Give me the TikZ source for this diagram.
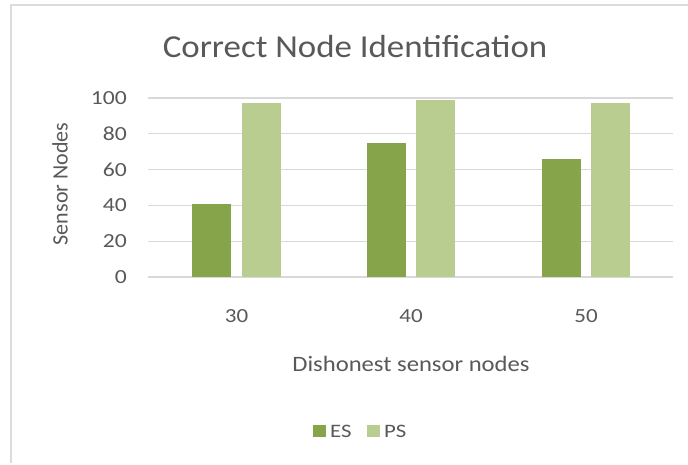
\documentclass[tikz,border=0pt]{standalone}
\usepackage{fontspec}
\setmainfont{Carlito}
\definecolor{esc}{RGB}{134,164,74}
\definecolor{psc}{RGB}{185,205,145}
\definecolor{gridc}{RGB}{217,217,217}
\definecolor{framec}{RGB}{220,220,220}
\definecolor{txt}{RGB}{89,89,89}
\newcommand\hstretch[2]{\scalebox{#1}[1]{#2}}
\begin{document}
\begin{tikzpicture}[x=1pt,y=-1pt,
  lbl/.style={text=txt,inner sep=0pt},
  ticklbl/.style={lbl,font=\fontsize{20}{24}\selectfont},
  axtitle/.style={lbl,font=\fontsize{22}{26}\selectfont},
  legendlbl/.style={lbl,anchor=west,font=\fontsize{19}{22}\selectfont},
  gridline/.style={draw=gridc,line width=1.2pt},
  esbar/.style={fill=esc},
  psbar/.style={fill=psc}]
\useasboundingbox (0,0) rectangle (688,465);
\fill[white] (0,0) rectangle (688,465);
% frame
\draw[framec,line width=2pt] (11,463) -- (11,5) -- (690,5);
% title
\node[lbl,font=\fontsize{32}{38}\selectfont] (title) at (355,47) {\hstretch{1.09}{Correct Node Identification}};
% grid and y ticks
\foreach \v/\n in {0/a,20/b,40/c,60/d,80/e,100/f}{
  \draw[gridline] (148,{277-1.79*\v}) -- (673,{277-1.79*\v});
  \node[ticklbl,anchor=east] (yt\n) at (127,{277-1.79*\v}) {\hstretch{1.18}{\v}};
}
% bars
\foreach \gc/\es/\ps in {236.5/41/97,411/75/99,586/66/97}{
  \fill[esbar] ({\gc-44.5},277) rectangle ({\gc-5.5},{277-1.79*\es});
  \fill[psbar] ({\gc+5},277) rectangle ({\gc+44},{277-1.79*\ps});
}
% x ticks
\node[ticklbl] (x30) at (236.5,316) {\hstretch{1.15}{30}};
\node[ticklbl] (x40) at (411,316) {\hstretch{1.15}{40}};
\node[ticklbl] (x50) at (586,316) {\hstretch{1.15}{50}};
% axis titles
\node[axtitle] (xtitle) at (411,364) {\hstretch{1.12}{Dishonest sensor nodes}};
\node[axtitle,rotate=90] (ytitle) at (60,184) {Sensor Nodes};
% legend
\fill[esbar] (313,425) rectangle (326,437);
\node[legendlbl] (les) at (330,431) {\hstretch{1.2}{ES}};
\fill[psbar] (367,425) rectangle (380,437);
\node[legendlbl] (lps) at (384,431) {\hstretch{1.2}{PS}};
\end{tikzpicture}
\end{document}
